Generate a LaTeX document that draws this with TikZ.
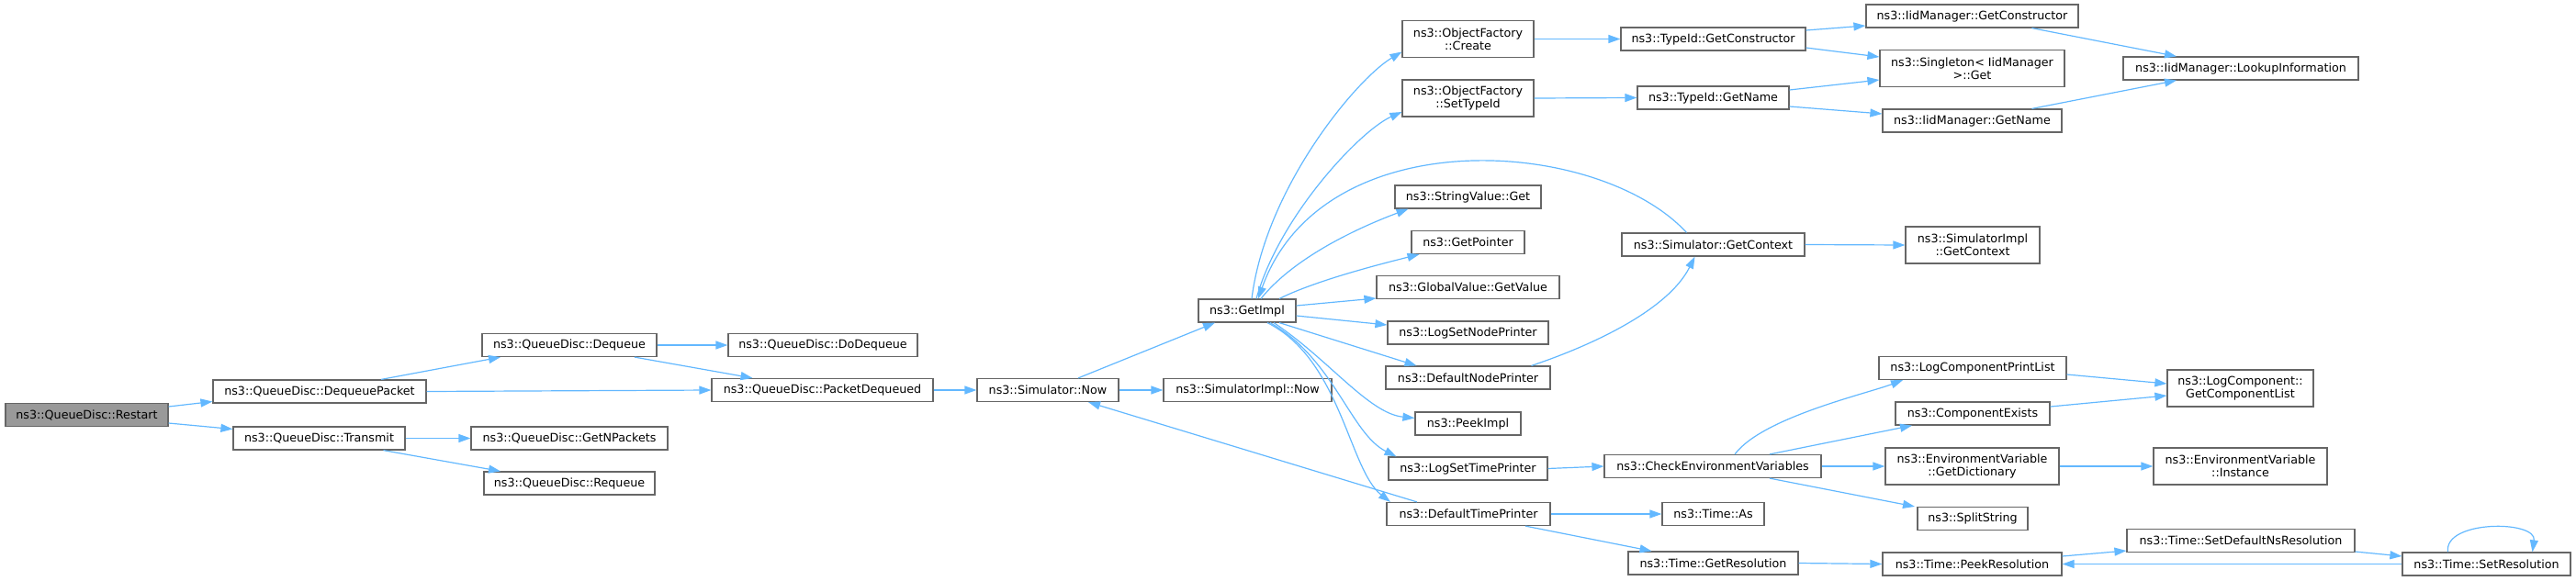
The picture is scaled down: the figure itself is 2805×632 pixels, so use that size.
\documentclass[tikz,border=0pt]{standalone}
\usepackage{fontspec}
\setmainfont{DejaVu Sans}
\usetikzlibrary{arrows.meta}
\definecolor{callblue}{HTML}{63B8FF}
\definecolor{boxgray}{HTML}{666666}
\definecolor{rootgray}{HTML}{999999}
\tikzset{
	>={Triangle[length=13pt,width=9pt]}, % filled heads as in the dot output
	func/.style={draw=boxgray, fill=white, line width=1.2pt, inner sep=0pt,
		minimum height=25pt, align=center, font=\fontsize{12.7pt}{14pt}\selectfont},
	twoline/.style={minimum height=40pt},
	root/.style={fill=rootgray},
	call/.style={->, draw=callblue, line width=1.2pt},
}
\begin{document}
\begin{tikzpicture}[x=1pt,y=-1pt]
	\useasboundingbox (0,0) rectangle (2805,632);

	% queue disc
	\node[func, root, minimum width=177pt] (restart) at (94.5,452) {ns3::QueueDisc::Restart};
	\node[func, minimum width=232pt] (dqpkt) at (348,426.5) {ns3::QueueDisc::DequeuePacket};
	\node[func, minimum width=187pt] (transmit) at (347.5,477.5) {ns3::QueueDisc::Transmit};
	\node[func, minimum width=190pt] (dequeue) at (620,376) {ns3::QueueDisc::Dequeue};
	\node[func, minimum width=206pt] (dodequeue) at (896,376) {ns3::QueueDisc::DoDequeue};
	\node[func, minimum width=241pt] (pktdq) at (895.5,425) {ns3::QueueDisc::PacketDequeued};
	\node[func, minimum width=214pt] (getnpk) at (620,477.5) {ns3::QueueDisc::GetNPackets};
	\node[func, minimum width=186pt] (requeue) at (620,526.5) {ns3::QueueDisc::Requeue};
	\node[func, minimum width=154pt] (simnow) at (1141,425) {ns3::Simulator::Now};
	\node[func, minimum width=183pt] (simimplnow) at (1358.5,425) {ns3::SimulatorImpl::Now};
	\node[func, minimum width=106pt] (getimpl) at (1358,338.5) {ns3::GetImpl};

	% callees of GetImpl
	\node[func, twoline, minimum width=143pt] (ofcreate) at (1598.5,42.5) {ns3::ObjectFactory\\::Create};
	\node[func, twoline, minimum width=143pt] (ofsettype) at (1598.5,107) {ns3::ObjectFactory\\::SetTypeId};
	\node[func, minimum width=159pt] (strget) at (1598.5,214.5) {ns3::StringValue::Get};
	\node[func, minimum width=123pt] (getptr) at (1598.5,264) {ns3::GetPointer};
	\node[func, minimum width=199pt] (gvget) at (1598.5,313) {ns3::GlobalValue::GetValue};
	\node[func, minimum width=175pt] (lsnp) at (1598.5,362.5) {ns3::LogSetNodePrinter};
	\node[func, minimum width=179pt] (dnp) at (1598.5,411.5) {ns3::DefaultNodePrinter};
	\node[func, minimum width=115pt] (peekimpl) at (1598.5,461.5) {ns3::PeekImpl};
	\node[func, minimum width=173pt] (lstp) at (1598.5,510.5) {ns3::LogSetTimePrinter};
	\node[func, minimum width=178pt] (dtp) at (1599,560) {ns3::DefaultTimePrinter};

	\node[func, minimum width=201pt] (tidgetctor) at (1865.5,42.5) {ns3::TypeId::GetConstructor};
	\node[func, minimum width=165pt] (tidgetname) at (1865.5,106.5) {ns3::TypeId::GetName};
	\node[func, minimum width=199pt] (simgetctx) at (1865.5,266.5) {ns3::Simulator::GetContext};
	\node[func, minimum width=236pt] (checkenv) at (1865,508) {ns3::CheckEnvironmentVariables};
	\node[func, minimum width=111pt] (timeas) at (1865.5,560) {ns3::Time::As};
	\node[func, minimum width=185pt] (getres) at (1865.5,613.5) {ns3::Time::GetResolution};

	\node[func, minimum width=231pt] (iidgetctor) at (2147.5,17.5) {ns3::IidManager::GetConstructor};
	\node[func, twoline, minimum width=201pt] (singleton) at (2147.5,74.5) {ns3::Singleton< IidManager\\ >::Get};
	\node[func, minimum width=195pt] (iidgetname) at (2147.5,131.5) {ns3::IidManager::GetName};
	\node[func, twoline, minimum width=146pt] (simimplctx) at (2148,267) {ns3::SimulatorImpl\\::GetContext};
	\node[func, minimum width=204pt] (lcpl) at (2148,401) {ns3::LogComponentPrintList};
	\node[func, minimum width=168pt] (compexists) at (2148,450.5) {ns3::ComponentExists};
	\node[func, twoline, minimum width=189pt] (envdict) at (2147.5,508) {ns3::EnvironmentVariable\\::GetDictionary};
	\node[func, minimum width=120pt] (splitstr) at (2148,565) {ns3::SplitString};
	\node[func, minimum width=195pt] (peekres) at (2147.5,614.5) {ns3::Time::PeekResolution};

	\node[func, minimum width=256pt] (lookup) at (2440,74.5) {ns3::IidManager::LookupInformation};
	\node[func, twoline, minimum width=159pt] (getcomplist) at (2439.5,423) {ns3::LogComponent::\\GetComponentList};
	\node[func, twoline, minimum width=189pt] (envinst) at (2439.5,508) {ns3::EnvironmentVariable\\::Instance};
	\node[func, minimum width=248pt] (setdefns) at (2440,589) {ns3::Time::SetDefaultNsResolution};
	\node[func, minimum width=183pt] (setres) at (2707.5,614.5) {ns3::Time::SetResolution};

	\begin{scope}[call]
	\draw ([yshift=9pt]restart.east) -- ([yshift=-11pt]dqpkt.west);
	\draw ([yshift=-9pt]restart.east) -- ([yshift=10pt]transmit.west);
	\draw ([xshift=67pt]dqpkt.north) -- ([xshift=-75pt]dequeue.south);
	\draw (dqpkt.east) -- (pktdq.west);
	\draw (dequeue.east) -- (dodequeue.west);
	\draw ([xshift=71pt]dequeue.south) -- ([xshift=-76pt]pktdq.north);
	\draw (transmit.east) -- (getnpk.west);
	\draw ([xshift=70pt]transmit.south) -- ([xshift=-75pt]requeue.north);
	\draw (pktdq.east) -- (simnow.west);
	\draw ([xshift=33pt]simnow.north) -- ([xshift=-35pt]getimpl.south);
	\draw (simnow.east) -- (simimplnow.west);
	\draw ([xshift=-56pt]dtp.north) -- ([xshift=44pt]simnow.south);

	% GetImpl fan
	\draw ([xshift=5pt]getimpl.north) .. controls +(15,-120) and +(-50,30) .. ([yshift=-14pt]ofcreate.west);
	\draw ([xshift=10pt]getimpl.north) .. controls +(25,-90) and +(-45,20) .. ([yshift=-15pt]ofsettype.west);
	\draw ([xshift=-29pt]simgetctx.north) .. controls +(-96,-104) and +(70,-196) .. ([xshift=12pt]getimpl.north);
	\draw ([xshift=15pt]getimpl.north) .. controls +(40,-50) and +(-40,15) .. ([xshift=-65pt]strget.south);
	\draw ([xshift=35pt]getimpl.north) .. controls +(40,-20) and +(-40,10) .. ([xshift=-53pt]getptr.south);
	\draw ([yshift=5.5pt]getimpl.east) -- ([yshift=-12pt]gvget.west);
	\draw ([yshift=-5.5pt]getimpl.east) -- ([yshift=8.5pt]lsnp.west);
	\draw ([xshift=35pt]getimpl.south) -- ([xshift=-56pt]dnp.north);
	\draw ([xshift=29pt]getimpl.south) .. controls +(60,40) and +(-50,-5) .. ([yshift=6pt]peekimpl.west);
	\draw ([xshift=25pt]getimpl.south) .. controls +(70,40) and +(-50,-25) .. ([xshift=-78pt]lstp.north);
	\draw ([xshift=22pt]getimpl.south) .. controls +(80,40) and +(-45,-35) .. ([xshift=-85pt]dtp.north);
	\draw ([xshift=69pt]dnp.north) .. controls +(60,-20) and +(-30,60) .. ([xshift=-20pt]simgetctx.south);
	\draw (simgetctx.east) -- (simimplctx.west);

	% type ids
	\draw (ofcreate.east) -- (tidgetctor.west);
	\draw (ofsettype.east) -- (tidgetname.west);
	\draw ([yshift=9.5pt]tidgetctor.east) -- ([yshift=-10.5pt]iidgetctor.west);
	\draw ([yshift=-9.5pt]tidgetctor.east) -- ([yshift=12.5pt]singleton.west);
	\draw ([yshift=8.5pt]tidgetname.east) -- ([yshift=-12.5pt]singleton.west);
	\draw ([yshift=-9.5pt]tidgetname.east) -- ([yshift=7.5pt]iidgetname.west);
	\draw ([xshift=65pt]iidgetctor.south) -- ([xshift=-70pt]lookup.north);
	\draw ([xshift=65pt]iidgetname.north) -- ([xshift=-70pt]lookup.south);

	% environment and time
	\draw (lstp.east) -- (checkenv.west);
	\draw ([xshift=24pt]checkenv.north) .. controls +(30,-40) and +(-40,15) .. ([xshift=-76pt]lcpl.south);
	\draw ([xshift=62pt]checkenv.north) -- ([xshift=-66pt]compexists.south);
	\draw (checkenv.east) -- (envdict.west);
	\draw ([xshift=62pt]checkenv.south) -- ([xshift=-63pt]splitstr.north);
	\draw ([yshift=-7pt]lcpl.east) -- ([yshift=5pt]getcomplist.west);
	\draw ([yshift=7.5pt]compexists.east) -- ([yshift=-8pt]getcomplist.west);
	\draw (envdict.east) -- (envinst.west);
	\draw (dtp.east) -- (timeas.west);
	\draw ([xshift=62pt]dtp.south) -- ([xshift=-67pt]getres.north);
	\draw (getres.east) -- (peekres.west);
	\draw ([yshift=8.5pt]peekres.east) -- ([yshift=-11pt]setdefns.west);
	\draw ([yshift=-12pt]setdefns.east) -- ([yshift=8.5pt]setres.west);
	\draw (setres.west) -- (peekres.east);
	\draw ([xshift=-42pt]setres.north) .. controls +(-5,-35) and +(5,-35) .. ([xshift=50pt]setres.north);
	\end{scope}
\end{tikzpicture}
\end{document}
